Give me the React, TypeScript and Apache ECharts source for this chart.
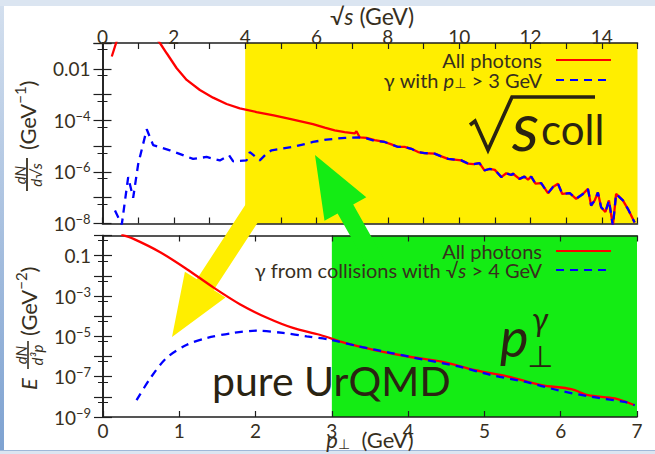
import React, { useEffect, useRef } from 'react';
import * as echarts from 'echarts';

// Shaded windows: sqrt(s) > 4 GeV (upper panel) and pT > 3 GeV (lower panel)
const sqrtSWindow = [4, 15];
const ptWindow = [3, 7];

// Upper panel: dN/d sqrt(s) vs sqrt(s) [GeV]
const allPhotonsSqrtS: [number, number][] = [
  [0.26, 0.03], [0.45, 0.2], [0.8, 0.6], [1.2, 0.5], [1.5, 0.16], [1.61, 0.1],
  [1.8, 0.04], [2.08, 0.0105], [2.36, 0.0037], [2.73, 0.0015], [3.1, 7.6e-4],
  [3.48, 4.3e-4], [3.85, 2.9e-4], [4.32, 2.1e-4], [4.8, 1.55e-4], [5.25, 1.15e-4],
  [5.9, 7.1e-5], [6.23, 5.2e-5], [6.51, 4.1e-5], [6.79, 3.5e-5], [7.07, 3.1e-5],
  [7.12, 3.8e-5], [7.21, 2.2e-5], [7.4, 2.1e-5], [7.63, 1.7e-5], [7.91, 1.45e-5],
  [8.1, 1.17e-5], [8.29, 9.3e-6], [8.47, 9.3e-6], [8.66, 7.9e-6], [8.85, 5.9e-6],
  [9.03, 5.4e-6], [9.31, 5.1e-6], [9.5, 4.0e-6], [9.69, 3.2e-6], [9.87, 3.0e-6],
  [10.06, 2.8e-6], [10.25, 2.1e-6], [10.4, 2.0e-6], [10.57, 2.2e-6], [10.71, 1.15e-6],
  [10.85, 1.3e-6], [11.0, 1.2e-6], [11.18, 6.3e-7], [11.32, 8.9e-7], [11.46, 7.6e-7],
  [11.51, 8.5e-7], [11.69, 5.4e-7], [11.83, 6.6e-7], [11.93, 5.0e-7], [12.02, 6.6e-7],
  [12.14, 3.5e-7], [12.3, 3.7e-7], [12.49, 1.5e-7], [12.63, 2.6e-7], [12.77, 3.5e-7],
  [12.89, 1.4e-7], [13.1, 1.5e-7], [13.28, 9.1e-8], [13.47, 1.4e-7], [13.61, 2.2e-7],
  [13.7, 5.0e-8], [13.8, 7.9e-8], [13.89, 1.6e-7], [13.98, 4.3e-8], [14.1, 2.8e-8],
  [14.2, 7.9e-8], [14.31, 8e-9], [14.4, 1.4e-7], [14.59, 7.9e-8], [14.73, 3.7e-8],
  [14.92, 1.1e-8],
];

const hardPhotonsSqrtS: [number, number][] = [
  [0.35, 3.2e-8], [0.54, 9e-9], [0.72, 6.3e-7], [0.86, 1.0e-7], [1.0, 2.0e-6],
  [1.24, 4.5e-5], [1.42, 1.1e-5], [1.89, 6.9e-6], [2.54, 3.2e-6], [2.92, 3.8e-6],
  [3.29, 2.8e-6], [3.55, 4.4e-6], [3.66, 2.6e-6], [4.04, 2.8e-6], [4.13, 5.9e-6],
  [4.41, 2.8e-6], [4.6, 5.1e-6], [4.74, 6.9e-6], [5.34, 9.3e-6], [5.9, 1.45e-5],
  [6.28, 1.8e-5], [6.8, 2.1e-5], [7.17, 2.2e-5], [7.4, 2.0e-5], [7.63, 1.6e-5],
  [7.91, 1.45e-5], [8.1, 1.17e-5], [8.29, 9.3e-6], [8.47, 9.3e-6], [8.66, 7.9e-6],
  [8.85, 5.9e-6], [9.03, 5.4e-6], [9.31, 5.1e-6], [9.5, 4.0e-6], [9.69, 3.2e-6],
  [9.87, 3.0e-6], [10.06, 2.8e-6], [10.25, 2.1e-6], [10.4, 2.0e-6], [10.57, 2.2e-6],
  [10.71, 1.15e-6], [10.85, 1.3e-6], [11.0, 1.2e-6], [11.18, 6.3e-7], [11.32, 8.9e-7],
  [11.46, 7.6e-7], [11.51, 8.5e-7], [11.69, 5.4e-7], [11.83, 6.6e-7], [11.93, 5.0e-7],
  [12.02, 6.6e-7], [12.14, 3.5e-7], [12.3, 3.7e-7], [12.49, 1.5e-7], [12.63, 2.6e-7],
  [12.77, 3.5e-7], [12.89, 1.4e-7], [13.1, 1.5e-7], [13.28, 9.1e-8], [13.47, 1.4e-7],
  [13.61, 2.2e-7], [13.7, 5.0e-8], [13.8, 7.9e-8], [13.89, 1.6e-7], [13.98, 4.3e-8],
  [14.1, 2.8e-8], [14.2, 7.9e-8], [14.31, 8e-9], [14.4, 1.4e-7], [14.59, 7.9e-8],
  [14.73, 3.7e-8], [14.92, 1.1e-8],
];

// Lower panel: E dN/d^3p vs pT [GeV]
const allPhotonsPt: [number, number][] = [
  [0.24, 1.1], [0.4, 0.68], [0.75, 0.148], [1.1, 0.0214], [1.45, 0.0026],
  [1.8, 3.8e-4], [2.15, 8.3e-5], [2.49, 2.6e-5], [2.84, 1.2e-5], [3.17, 4.7e-6],
  [3.56, 2.1e-6], [4.0, 1.0e-6], [4.44, 5.6e-7], [4.88, 2.1e-7], [5.31, 1.0e-7],
  [5.75, 3.8e-8], [6.14, 2.4e-8], [6.36, 1.2e-8], [6.71, 8.3e-9], [6.97, 3.8e-9],
];

const collisionPhotonsPt: [number, number][] = [
  [0.44, 6.8e-9], [0.62, 8.3e-8], [0.83, 8.3e-7], [1.1, 3.8e-6], [1.36, 8.3e-6],
  [1.71, 1.48e-5], [2.01, 1.9e-5], [2.36, 1.48e-5], [2.67, 1.0e-5], [2.98, 6.8e-6],
  [3.35, 3.2e-6], [3.78, 1.48e-6], [4.22, 6.8e-7], [4.66, 3.2e-7], [5.09, 1.2e-7],
  [5.53, 5.6e-8], [5.97, 2.1e-8], [6.4, 1.0e-8], [6.84, 5.6e-9], [6.97, 3.8e-9],
];

const NAME_ALL = 'All photons';
const NAME_HARD = 'γ with p⊥ > 3 GeV';
const NAME_COLL = 'γ from collisions with √s > 4 GeV';

const FONT = 'Lato, "Noto Sans", "DejaVu Sans", sans-serif';
const INK = '#372f1e';
const DARK = '#2a2312';
const YELLOW = '#ffee00';
const GREEN = '#14ec14';
const RED = '#ff0000';
const BLUE = '#0000ff';

const tok = (size: number, extra: any = {}) => ({
  fontSize: size, fontFamily: FONT, color: INK, fill: INK, ...extra,
});

const richBase = {
  r: tok(20),
  i: tok(20, { fontStyle: 'italic' }),
  sub: tok(14, { verticalAlign: 'bottom', lineHeight: 14, padding: [9, 0, 0, 0] }),
  b: tok(19, { lineHeight: 22 }),
  s: tok(13, { verticalAlign: 'top', lineHeight: 13 }),
};

// Decade labels on every other decade
function decadeLabel(v: number, keepOdd: boolean) {
  const e = Math.round(Math.log10(v));
  const odd = Math.abs(e) % 2 === 1;
  if (odd !== keepOdd) return '';
  if (e === -1) return '{b|0.1}';
  if (e === -2) return '{b|0.01}';
  return `{b|10}{s|−${-e}}`;
}

const frameLine = { show: true, lineStyle: { color: '#1e1e1e', width: 1.6 } };
const innerTick = (len: number) => ({ show: true, inside: true, length: len, lineStyle: { color: '#1e1e1e', width: 1.2 } });

function xAxisPair(grid: number, max: number, labelled: 'top' | 'bottom', formatter: (v: number) => string, margin: number) {
  const main = {
    gridIndex: grid, type: 'value', position: labelled, min: 0, max, interval: 1, z: 2,
    axisLine: frameLine, axisTick: innerTick(6), splitLine: { show: false },
    axisLabel: { formatter, fontSize: 19, fontFamily: FONT, color: INK, margin },
  };
  const mirror = {
    gridIndex: grid, type: 'value', position: labelled === 'top' ? 'bottom' : 'top', min: 0, max, interval: 1, z: 2,
    axisLine: frameLine, axisTick: innerTick(6), splitLine: { show: false }, axisLabel: { show: false },
  };
  return [main, mirror];
}

function yAxisPair(grid: number, min: number, max: number, keepOdd: boolean) {
  const common = {
    gridIndex: grid, type: 'log', logBase: 10, min, max, interval: 1, z: 2,
    axisLine: frameLine, axisTick: innerTick(9), splitLine: { show: false },
    minorTick: { show: true, splitNumber: 2, length: 5, lineStyle: { color: '#1e1e1e', width: 1 } },
  };
  return [
    { ...common, position: 'left', axisLabel: { formatter: (v: number) => decadeLabel(v, keepOdd), margin: 12, rich: richBase } },
    { ...common, position: 'right', axisLabel: { show: false } },
  ];
}

function arrow(points: number[][], color: string) {
  return { type: 'polygon', z: 3, silent: true, shape: { points }, style: { fill: color } };
}

function measure(t: string, font: string) {
  const c = document.createElement('canvas').getContext('2d')!;
  c.font = font;
  return c.measureText(t).width;
}

// A run of text pieces laid out left to right: [text, size, italic, dy]
type Piece = [string, number, boolean, number?];
function run(x: number, y: number, pieces: Piece[], align: 'left' | 'center' = 'left', family = FONT, color = INK): any[] {
  const fonts = pieces.map(([, size, italic]) => `${italic ? 'italic ' : ''}${size}px ${family}`);
  const widths = pieces.map(([t], k) => measure(t, fonts[k]));
  const total = widths.reduce((a, b) => a + b, 0);
  let cx = align === 'center' ? x - total / 2 : x;
  return pieces.map(([t, , , dy = 0], k) => {
    const el = {
      type: 'text', x: cx, y: y + (dy || 0), z: 5, silent: true,
      style: { text: t, font: fonts[k], fill: color, textAlign: 'left', textVerticalAlign: 'middle' },
    };
    cx += widths[k];
    return el;
  });
}

function bigText(x: number, y: number, t: string, size: number, italic = false, family = FONT) {
  return {
    type: 'text', x, y, z: 5, silent: true,
    style: {
      text: t, font: `${italic ? 'italic ' : ''}${size}px ${family}`,
      fill: DARK, textAlign: 'left', textVerticalAlign: 'middle',
    },
  };
}

export default function App() {
  const ref = useRef<HTMLDivElement>(null);

  useEffect(() => {
    if (!ref.current) return;
    const chart = echarts.init(ref.current, undefined, { renderer: 'svg' });

    const legendText = {
      fontSize: 20, fontFamily: FONT, color: INK, lineHeight: 18, padding: [0, 9, 0, 0], rich: richBase,
    };
    const legendFormatter = (name: string) => {
      if (name === NAME_HARD) return '{r|γ with }{i|p}{sub|⊥}{r| > 3 GeV}';
      if (name === NAME_COLL) return '{r|γ from collisions with √}{i|s}{r| > 4 GeV}';
      return `{r|${name}}`;
    };
    const legendCommon = {
      orient: 'vertical', align: 'right', right: 43,
      itemWidth: 55, itemHeight: 12, padding: 0, selectedMode: false,
      itemStyle: { opacity: 0 },
      formatter: legendFormatter, textStyle: legendText,
    };

    chart.setOption({
      animation: false,
      grid: [
        { left: 102.5, top: 43, width: 535, height: 180.5 },
        { left: 103, top: 235.5, width: 534, height: 181.5 },
      ],
      xAxis: [
        ...xAxisPair(0, 15, 'top', (v: number) => (v % 2 === 0 ? String(v) : ''), -3),
        ...xAxisPair(1, 7, 'bottom', (v: number) => String(v), 4),
      ],
      yAxis: [
        ...yAxisPair(0, 1e-8, 0.1, false),
        ...yAxisPair(1, 1e-9, 1, true),
      ],
      legend: [
        { ...legendCommon, data: [NAME_ALL, NAME_HARD], top: 50, itemGap: -4 },
        { ...legendCommon, data: [NAME_ALL, NAME_COLL], top: 241, itemGap: -1 },
      ],
      series: [
        {
          name: 'sqrt-s window', type: 'line', xAxisIndex: 0, yAxisIndex: 0, data: [], z: 1,
          markArea: { silent: true, itemStyle: { color: YELLOW }, data: [[{ xAxis: sqrtSWindow[0] }, { xAxis: sqrtSWindow[1] }]] },
        },
        {
          name: 'pt window', type: 'line', xAxisIndex: 2, yAxisIndex: 2, data: [], z: 1,
          markArea: { silent: true, itemStyle: { color: GREEN }, data: [[{ xAxis: ptWindow[0] }, { xAxis: ptWindow[1] }]] },
        },
        {
          name: NAME_ALL, type: 'line', xAxisIndex: 0, yAxisIndex: 0, data: allPhotonsSqrtS, z: 4,
          symbol: 'none', showSymbol: false, lineStyle: { color: RED, width: 2.3 }, itemStyle: { color: RED },
        },
        {
          name: NAME_HARD, type: 'line', xAxisIndex: 0, yAxisIndex: 0, data: hardPhotonsSqrtS, z: 4,
          symbol: 'none', showSymbol: false, lineStyle: { color: BLUE, width: 2.3, type: [8, 6] }, itemStyle: { color: BLUE },
        },
        {
          name: NAME_ALL, type: 'line', xAxisIndex: 2, yAxisIndex: 2, data: allPhotonsPt, z: 4, smooth: 0.3,
          symbol: 'none', showSymbol: false, lineStyle: { color: RED, width: 2.3 }, itemStyle: { color: RED },
        },
        {
          name: NAME_COLL, type: 'line', xAxisIndex: 2, yAxisIndex: 2, data: collisionPhotonsPt, z: 4, smooth: 0.3,
          symbol: 'none', showSymbol: false, lineStyle: { color: BLUE, width: 2.3, type: [8, 6] }, itemStyle: { color: BLUE },
        },
      ],
      graphic: [
        arrow([[172, 337], [225.5, 297.5], [213.7, 290], [278, 191.6], [261.1, 180.8], [196.8, 279.2], [184.9, 271.7]], YELLOW),
        arrow([[315, 155], [366.3, 197.2], [353.2, 204.6], [390, 269.9], [374.4, 278.7], [337.6, 213.4], [324.5, 220.8]], GREEN),
        // axis titles
        ...run(372, 16, [['√', 23, false], ['s', 23, true], [' (GeV)', 23, false]], 'center'),
        ...run(370, 439, [['p', 22, true], ['⊥', 14, false, 4], ['  (GeV)', 22, false]], 'center'),
        // y-axis title, upper panel: dN/d√s (GeV^-1)
        {
          type: 'group', x: 27, y: 194, rotation: Math.PI / 2, z: 5, silent: true,
          children: [
            { type: 'text', x: 19, y: -7.5, style: { text: 'dN', font: `italic 15px ${FONT}`, fill: INK, textAlign: 'center', textVerticalAlign: 'middle' } },
            { type: 'line', shape: { x1: 3, y1: 0, x2: 36, y2: 0 }, style: { stroke: INK, lineWidth: 1.8 } },
            { type: 'text', x: 19, y: 8.5, style: { text: 'd√s', font: `italic 15px ${FONT}`, fill: INK, textAlign: 'center', textVerticalAlign: 'middle' } },
            ...run(44, 0, [['(GeV', 22, false], ['−1', 15, false, -7], [')', 22, false]]),
          ],
        },
        // y-axis title, lower panel: E dN/d^3p (GeV^-2)
        {
          type: 'group', x: 28, y: 390, rotation: Math.PI / 2, z: 5, silent: true,
          children: [
            { type: 'text', x: 0, y: 0, style: { text: 'E', font: `italic 22px ${FONT}`, fill: INK, textAlign: 'left', textVerticalAlign: 'middle' } },
            { type: 'text', x: 35, y: -7.5, style: { text: 'dN', font: `italic 15px ${FONT}`, fill: INK, textAlign: 'center', textVerticalAlign: 'middle' } },
            { type: 'line', shape: { x1: 21, y1: 0, x2: 49, y2: 0 }, style: { stroke: INK, lineWidth: 1.6 } },
            { type: 'text', x: 35, y: 8.5, style: { text: 'd³p', font: `italic 15px ${FONT}`, fill: INK, textAlign: 'center', textVerticalAlign: 'middle' } },
            ...run(54, 0, [['(GeV', 22, false], ['−2', 15, false, -7], [')', 22, false]]),
          ],
        },
        // √s_coll
        { type: 'polyline', z: 5, silent: true, shape: { points: [[470, 125], [475, 121], [488, 150], [512, 97], [595, 97]] }, style: { stroke: DARK, lineWidth: 3.6, fill: null, lineJoin: 'miter' } },
        bigText(512, 124, 's', 68, true),
        bigText(541, 129, 'coll', 42),
        // p⊥^γ
        bigText(500, 336, 'p', 54, true),
        bigText(532, 318, 'γ', 32, true),
        bigText(527, 356, '⊥', 30, false, '"DejaVu Sans"'),
        // pure UrQMD
        bigText(212, 380, 'pure UrQMD', 41),
      ],
    });

    return () => chart.dispose();
  }, []);

  return (
    <div style={{ position: 'absolute', left: 0, top: 0, width: 655, height: 454, background: '#dbe5f1', overflow: 'hidden' }}>
      <div style={{ position: 'absolute', left: 0, top: 6, width: 4, height: 444, background: 'linear-gradient(#d3dfee, #7ea2d1)' }} />
      <div style={{ position: 'absolute', left: 4, top: 6, width: 651, height: 444, background: '#ffffff' }} />
      <div style={{ position: 'absolute', left: 0, top: 450, width: 655, height: 1, background: '#9fb8d8' }} />
      <div ref={ref} style={{ position: 'absolute', left: 0, top: 0, width: 655, height: 454 }} />
    </div>
  );
}
